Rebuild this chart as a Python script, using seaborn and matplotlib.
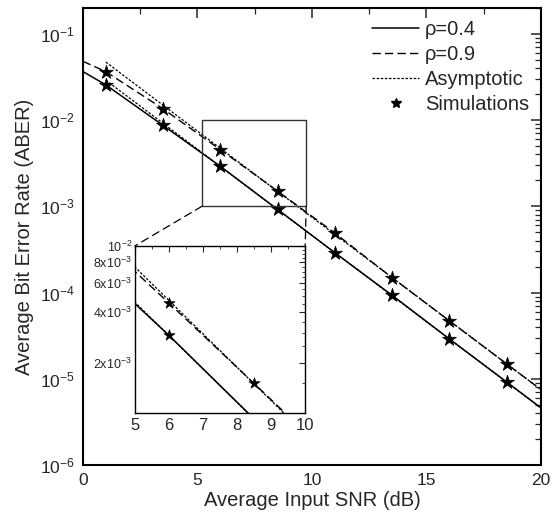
import numpy as np
import pandas as pd
import seaborn as sns
import matplotlib.pyplot as plt
from matplotlib.patches import Rectangle, ConnectionPatch
from matplotlib.lines import Line2D
from matplotlib.ticker import LogLocator, MultipleLocator, FixedLocator, FixedFormatter, NullFormatter

# values
snr_line = [0, 1, 3.5, 6, 8.5, 11, 13.5, 16, 18.5, 20]
aber_rho04 = [0.0365, 0.0256, 0.00867, 0.00291, 9.2e-4, 2.9e-4, 9.3e-5, 2.9e-5, 9.2e-6, 4.6e-6]
aber_rho09 = [0.048, 0.0364, 0.0135, 0.00454, 0.0015, 4.9e-4, 1.49e-4, 4.7e-5, 1.49e-5, 7.5e-6]

snr_asym = [1, 20]
asym_rho04 = [0.029, 4.6e-6]
asym_rho09 = [0.047, 7.5e-6]

snr_sim = [1, 3.5, 6, 8.5, 11, 13.5, 16, 18.5]
sim_rho04 = [0.0256, 0.00867, 0.00291, 9.2e-4, 2.9e-4, 9.35e-5, 2.9e-5, 9.2e-6]
sim_rho09 = [0.0364, 0.0135, 0.00454, 0.0015, 4.94e-4, 1.49e-4, 4.72e-5, 1.49e-5]

legend_labels = ['\u03c1=0.4', '\u03c1=0.9', 'Asymptotic', 'Simulations']
inset_yticks = [2e-3, 4e-3, 6e-3, 8e-3, 1e-2]
inset_ylabels = ['2x10$^{-3}$', '4x10$^{-3}$', '6x10$^{-3}$', '8x10$^{-3}$', '10$^{-2}$']

sns.set_style('white')
plt.rcParams['font.family'] = ['Liberation Sans', 'DejaVu Sans']
plt.rcParams['mathtext.default'] = 'regular'

DASH = (6, 3)
DOT = (2, 1.3)


def draw_curves(ax, ms):
    sns.lineplot(x=snr_line, y=aber_rho04, ax=ax, color='k', lw=1.1)
    sns.lineplot(x=snr_line, y=aber_rho09, ax=ax, color='k', lw=1.0, linestyle=(0, DASH))
    sns.lineplot(x=snr_asym, y=asym_rho04, ax=ax, color='k', lw=0.9, linestyle=(0, DOT))
    sns.lineplot(x=snr_asym, y=asym_rho09, ax=ax, color='k', lw=0.9, linestyle=(0, DOT))
    for ys in (sim_rho04, sim_rho09):
        sns.scatterplot(x=snr_sim, y=ys, ax=ax, color='k', marker='*', s=ms, edgecolor='k', linewidth=0.5, zorder=5)


fig = plt.figure(figsize=(5.6, 5.22), dpi=100)
ax = fig.add_axes([0.148, 0.109, 0.818, 0.876])
draw_curves(ax, 110)
ax.set_yscale('log')
ax.set_xlim(0, 20)
ax.set_ylim(1e-6, 0.2)
ax.xaxis.set_major_locator(MultipleLocator(5))
ax.xaxis.set_minor_locator(MultipleLocator(2.5))
ax.yaxis.set_major_locator(LogLocator(base=10, numticks=10))
ax.yaxis.set_minor_locator(LogLocator(base=10, subs=np.arange(2, 10), numticks=20))
ax.yaxis.set_minor_formatter(NullFormatter())
ax.tick_params(which='both', direction='in', top=True, right=True, labelsize=12.5, pad=6)
ax.tick_params(which='major', length=7, width=1.1)
ax.tick_params(which='minor', length=4, width=0.9)
for s in ax.spines.values():
    s.set_linewidth(1.5)
    s.set_color('k')
ax.set_xlabel('Average Input SNR (dB)', fontsize=14.5, labelpad=2)
ax.set_ylabel('Average Bit Error Rate (ABER)', fontsize=14.5, labelpad=4)

handles = [
    Line2D([], [], color='k', lw=1.1),
    Line2D([], [], color='k', lw=1.0, linestyle=(0, DASH)),
    Line2D([], [], color='k', lw=0.9, linestyle=(0, DOT)),
    Line2D([], [], color='k', marker='*', linestyle='none', markersize=7),
]
ax.legend(handles, legend_labels, loc='upper right', frameon=False, fontsize=14.5,
          handlelength=2.3, handletextpad=0.3, labelspacing=0.3,
          borderaxespad=0.2, bbox_to_anchor=(1.0, 1.0))

# zoom rectangle
ax.add_patch(Rectangle((5.2, 1e-3), 4.55, 9e-3, fill=False, edgecolor='#333333', lw=1.0, zorder=6))

# inset
axin = fig.add_axes([0.241, 0.209, 0.304, 0.320])
draw_curves(axin, 70)
axin.set_yscale('log')
axin.set_xlim(5, 10)
axin.set_ylim(1e-3, 1e-2)
axin.xaxis.set_major_locator(MultipleLocator(1))
axin.xaxis.set_minor_locator(MultipleLocator(0.5))
axin.yaxis.set_major_locator(FixedLocator(inset_yticks))
axin.yaxis.set_major_formatter(FixedFormatter(inset_ylabels))
axin.yaxis.set_minor_locator(LogLocator(base=10, subs=np.arange(1, 10, 0.5), numticks=20))
axin.yaxis.set_minor_formatter(NullFormatter())
axin.tick_params(which='both', direction='in', top=True, right=True)
axin.tick_params(axis='x', labelsize=12, pad=4)
axin.tick_params(axis='y', labelsize=9, pad=2)
axin.tick_params(which='major', length=4, width=0.8)
axin.tick_params(which='minor', length=2.5, width=0.6)
for s in axin.spines.values():
    s.set_linewidth(1.0)
    s.set_color('k')
axin.set_facecolor('white')

# connector lines
for xa, xb in ((5.2, 0.0), (9.75, 1.0)):
    con = ConnectionPatch(xyA=(xa, 1e-3), coordsA='data', axesA=ax,
                          xyB=(xb, 1.0), coordsB='axes fraction', axesB=axin,
                          color='k', lw=0.9, linestyle=(0, (6, 4)))
    fig.add_artist(con)

fig.savefig('out.png', dpi=100)
